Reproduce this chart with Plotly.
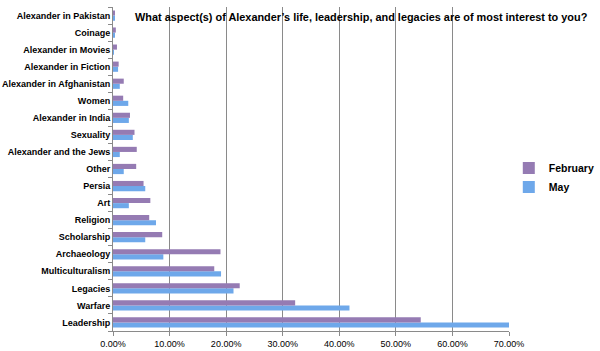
import plotly.graph_objects as go

categories = ["Leadership", "Warfare", "Legacies", "Multiculturalism", "Archaeology",
              "Scholarship", "Religion", "Art", "Persia", "Other", "Alexander and the Jews",
              "Sexuality", "Alexander in India", "Women", "Alexander in Afghanistan",
              "Alexander in Fiction", "Alexander in Movies", "Coinage", "Alexander in Pakistan"]
february = [54.4, 32.2, 22.4, 17.9, 19.0, 8.7, 6.4, 6.6, 5.4, 4.1, 4.2,
            3.8, 3.0, 1.8, 1.9, 1.0, 0.7, 0.5, 0.2]
may = [70.0, 41.8, 21.3, 19.1, 8.9, 5.7, 7.6, 2.8, 5.7, 1.9, 1.2,
       3.5, 2.8, 2.7, 1.2, 0.9, 0.1, 0.35, 0.3]
tick_vals = [0, 10, 20, 30, 40, 50, 60, 70]
tick_text = ["0.00%", "10.00%", "20.00%", "30.00%", "40.00%", "50.00%", "60.00%", "70.00%"]
title_text = "What aspect(s) of Alexander’s life, leadership, and legacies are of most interest to you?"

fig = go.Figure()
fig.add_trace(go.Bar(y=categories, x=may, orientation="h", name="<b>May</b>",
                     marker=dict(color="#6ea8ea", line=dict(width=0))))
fig.add_trace(go.Bar(y=categories, x=february, orientation="h", name="<b>February</b>",
                     marker=dict(color="#957bb3", line=dict(width=0))))

fig.update_layout(
    width=600, height=351,
    margin=dict(l=113, r=91, t=7, b=20, autoexpand=False),
    paper_bgcolor="white", plot_bgcolor="white",
    barmode="group", bargap=0.4, bargroupgap=0,
    font=dict(family="Liberation Sans", color="#000000"),
    showlegend=True,
    legend=dict(xref="container", yref="container", x=0.848, y=1 - 177.5 / 351,
                xanchor="left", yanchor="middle",
                traceorder="reversed", font=dict(size=10.5, family="Liberation Sans"),
                itemwidth=30, bgcolor="rgba(0,0,0,0)"),
    annotations=[dict(text="<b>" + title_text + "</b>",
                      xref="paper", yref="paper", x=(133 - 113) / 396, y=1.0,
                      xanchor="left", yanchor="top", yshift=-2, showarrow=False,
                      font=dict(size=10.9, family="Liberation Sans", color="#000"))],
)
fig.update_xaxes(range=[0, 70], tickvals=tick_vals, ticktext=tick_text,
                 showgrid=True, gridcolor="#8a8a8a", gridwidth=1,
                 showline=True, linecolor="#8a8a8a", ticks="outside", ticklen=4,
                 tickcolor="#8a8a8a", tickfont=dict(size=9, family="Liberation Sans"),
                 zeroline=False, fixedrange=True)
fig.update_yaxes(showline=True, linecolor="#8a8a8a", ticks="outside", ticklen=4,
                 tickcolor="#8a8a8a", tickson="boundaries",
                 tickfont=dict(size=9, family="Liberation Sans"),
                 categoryorder="array", categoryarray=categories,
                 tickvals=categories, ticktext=["<b>%s</b>" % c for c in categories])

fig.write_html("out.html")
